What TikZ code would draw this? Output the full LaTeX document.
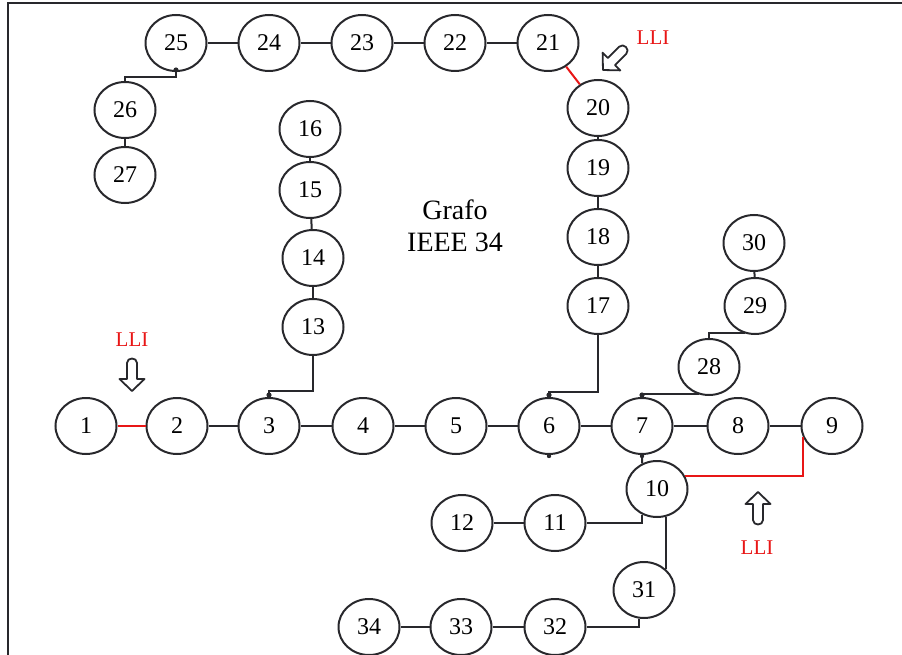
\documentclass[tikz,border=0pt]{standalone}
\usepackage{tikz}
\usepackage{fontspec}
\setmainfont{Liberation Serif}
\usetikzlibrary{shapes.geometric}
\definecolor{linea}{RGB}{40,40,44}
\definecolor{rojo}{RGB}{232,22,22}

\tikzset{bus/.style={ellipse, draw=linea, line width=2pt, minimum width=61pt, minimum height=56pt, inner sep=0pt, font=\fontsize{24}{28}\selectfont},
enlace/.style={draw=linea, line width=2pt},
lli/.style={text=rojo, font=\fontsize{21}{24}\selectfont},
flecha/.pic={\draw [linea, line width=1.8pt, line join=round] (-5,-11) -- (-5,5) -- (-12.5,5) -- (0,17) -- (12.5,5) -- (5,5) -- (5,-11) .. controls (5,-17) and (-5,-17) .. (-5,-11) -- cycle;}}

\begin{document}
\begin{tikzpicture}[x=1pt,y=-1pt]
\useasboundingbox (0,0) rectangle (902,655);
\draw [linea, line width=1.4pt] (8,655) -- (8,3) -- (902,3);
% barras principales
\node [bus] (n1) at (86,426) {1};
\node [bus] (n2) at (177,426) {2};
\node [bus] (n3) at (269,426) {3};
\node [bus] (n4) at (363,426) {4};
\node [bus] (n5) at (456,426) {5};
\node [bus] (n6) at (549,426) {6};
\node [bus] (n7) at (642,426) {7};
\node [bus] (n8) at (738,426) {8};
\node [bus] (n9) at (832,426) {9};
\node [bus] (n10) at (657,489) {10};
\node [bus] (n11) at (555,523) {11};
\node [bus] (n12) at (462,523) {12};
\node [bus] (n13) at (313,327) {13};
\node [bus] (n14) at (313,258) {14};
\node [bus] (n15) at (310,190) {15};
\node [bus] (n16) at (310,129) {16};
\node [bus] (n17) at (598,306) {17};
\node [bus] (n18) at (598,237) {18};
\node [bus] (n19) at (598,168) {19};
\node [bus] (n20) at (598,108) {20};
\node [bus] (n21) at (548,43) {21};
\node [bus] (n22) at (455,43) {22};
\node [bus] (n23) at (362,43) {23};
\node [bus] (n24) at (269,43) {24};
\node [bus] (n25) at (176,43) {25};
\node [bus] (n26) at (125,110) {26};
\node [bus] (n27) at (125,175) {27};
\node [bus] (n28) at (709,367) {28};
\node [bus] (n29) at (755,306) {29};
\node [bus] (n30) at (754,243) {30};
\node [bus] (n31) at (644,590) {31};
\node [bus] (n32) at (555,627) {32};
\node [bus] (n33) at (461,627) {33};
\node [bus] (n34) at (369,627) {34};
\node [font=\fontsize{28}{32}\selectfont, align=center] (titulo) at (455,226) {Grafo\\IEEE 34};
% tramos rectos
\foreach \a/\b in {2/3,3/4,4/5,5/6,6/7,7/8,8/9,13/14,14/15,15/16,17/18,18/19,19/20,21/22,22/23,23/24,24/25,26/27,29/30,11/12,32/33,33/34}
  \draw [enlace] (n\a) -- (n\b);
% tramos en escuadra
\draw [enlace] (n3.north) -- ++(0,-6) -| (n13.south);
\draw [enlace] (n6.north) -- ++(0,-5) -| (n17.south);
\draw [enlace] (n7.north) |- (n28.250);
\draw [enlace] (n28.north) |- (n29.250);
\draw [enlace] (n25.south) -- ++(0,5) -| (n26.north);
\draw [enlace] (n7.south) -- (n10.120);
\draw [enlace] (n10.240) |- (n11.east);
\draw [enlace] (n10.287) -- (n10.287 |- n31.45);
\draw [enlace] (n31.260) |- (n32.east);
% llaves de interconexion
\draw [enlace, rojo] (n1) -- (n2);
\draw [enlace, rojo] (n21) -- (n20);
\draw [enlace, rojo] (n10.25) -| (n9.200);
\foreach \p in {n3.north,n6.north,n7.north,n25.south}
  \fill [linea] ([yshift=2pt]\p) circle (2.6);
\foreach \p in {n6.south,n7.south}
  \fill [linea] ([yshift=-1pt]\p) circle (2.2);
\node [lli] (t1) at (132,340) {LLI};
\pic at (132,374) {flecha};
\node [lli] (t2) at (757,548) {LLI};
\pic [rotate=180] at (758,509) {flecha};
\node [lli] (t3) at (653,38) {LLI};
\pic [rotate=-45] at (615,58) {flecha};
\end{tikzpicture}
\end{document}
